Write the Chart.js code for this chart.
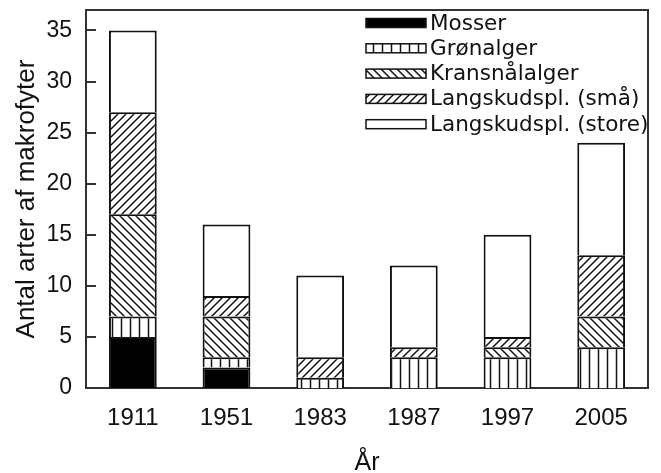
<!DOCTYPE html>
<html lang="da">
<head>
<meta charset="UTF-8">
<title>Antal arter af makrofyter</title>
<style>
    body { margin: 0; padding: 0; background: #fff; }
    #chart { display: block; }
</style>
</head>
<body>
<canvas id="chart" width="661" height="473"></canvas>
<script src="https://cdn.jsdelivr.net/npm/chart.js"></script>
<script>
    // data
    var years = ['1911', '1951', '1983', '1987', '1997', '2005'];
    var mosser = [5, 2, 0, 0, 0, 0];
    var gronalger = [2, 1, 1, 3, 3, 4];
    var kransnalalger = [10, 4, 0, 0, 1, 3];
    var langSmaa = [10, 2, 2, 1, 1, 6];
    var langStore = [8, 7, 8, 8, 10, 11];
    var seriesNames = ['Mosser', 'Grønalger', 'Kransnålalger', 'Langskudspl. (små)', 'Langskudspl. (store)'];

    var ink = '#111';
    var axisFont = 'Arial, "Liberation Sans", sans-serif';

    // hatch fills
    function makePattern(type) {
        var c = document.createElement('canvas');
        var s = type === 'vert' ? 9 : 8;
        c.width = s;
        c.height = s;
        var g = c.getContext('2d');
        g.fillStyle = '#fff';
        g.fillRect(0, 0, s, s);
        g.strokeStyle = ink;
        g.lineWidth = 1.5;
        g.beginPath();
        if (type === 'vert') {
            g.moveTo(s / 2, 0); g.lineTo(s / 2, s);
        } else if (type === 'fwd') {
            g.moveTo(0, s); g.lineTo(s, 0);
            g.moveTo(-1, 1); g.lineTo(1, -1);
            g.moveTo(s - 1, s + 1); g.lineTo(s + 1, s - 1);
        } else {
            g.moveTo(0, 0); g.lineTo(s, s);
            g.moveTo(-1, s - 1); g.lineTo(1, s + 1);
            g.moveTo(s - 1, -1); g.lineTo(s + 1, 1);
        }
        g.stroke();
        return g.createPattern(c, 'repeat');
    }

    var fills = ['#000', makePattern('vert'), makePattern('back'), makePattern('fwd'), '#fff'];
    var values = [mosser, gronalger, kransnalalger, langSmaa, langStore];

    var datasets = values.map(function (v, i) {
        return {
            label: seriesNames[i],
            data: v,
            backgroundColor: fills[i],
            borderColor: ink,
            borderWidth: 2,
            borderSkipped: 'bottom',
            barPercentage: 0.51,
            categoryPercentage: 1
        };
    });

    // top and right edges of the plot frame, plus inward y ticks
    var framePlugin = {
        id: 'frame',
        afterDraw: function (chart) {
            var a = chart.chartArea, ctx = chart.ctx, ys = chart.scales.y;
            ctx.save();
            ctx.strokeStyle = '#333';
            ctx.lineWidth = 2;
            ctx.beginPath();
            ctx.moveTo(a.left, a.top);
            ctx.lineTo(a.right, a.top);
            ctx.lineTo(a.right, a.bottom);
            ys.ticks.forEach(function (t) {
                var py = Math.round(ys.getPixelForValue(t.value));
                ctx.moveTo(a.left, py);
                ctx.lineTo(a.left + 10, py);
            });
            ctx.stroke();
            ctx.restore();
        }
    };

    // legend drawn inside the plot, top right
    var legendPlugin = {
        id: 'innerLegend',
        afterDraw: function (chart) {
            var ctx = chart.ctx;
            ctx.save();
            ctx.font = '21.5px "DejaVu Sans", sans-serif';
            ctx.textBaseline = 'middle';
            ctx.textAlign = 'left';
            chart.data.datasets.forEach(function (ds, i) {
                var y = 23 + i * 25.3;
                ctx.fillStyle = ds.backgroundColor;
                ctx.fillRect(366, y - 4.5, 60, 9);
                ctx.strokeStyle = ink;
                ctx.lineWidth = 1.5;
                ctx.strokeRect(366, y - 4.5, 60, 9);
                ctx.fillStyle = ink;
                ctx.fillText(ds.label, 430, y + 1);
            });
            ctx.restore();
        }
    };

    new Chart(document.getElementById('chart').getContext('2d'), {
        type: 'bar',
        data: { labels: years, datasets: datasets },
        options: {
            responsive: false,
            animation: false,
            layout: { padding: { top: 10, right: 13, left: 0, bottom: 0 } },
            plugins: {
                legend: { display: false },
                tooltip: { enabled: false }
            },
            scales: {
                x: {
                    stacked: true,
                    grid: { display: false },
                    border: { display: true, color: '#333', width: 2 },
                    ticks: { color: ink, padding: 8, font: { family: axisFont, size: 24 } },
                    title: {
                        display: true,
                        text: 'År',
                        color: ink,
                        padding: { top: 0, bottom: 0 },
                        font: { family: axisFont, size: 25, lineHeight: 0.8 }
                    },
                    afterFit: function (scale) {
                        scale.height = 85;
                        scale.paddingLeft = 0;
                        scale.paddingRight = 0;
                    }
                },
                y: {
                    stacked: true,
                    min: 0,
                    max: 37,
                    grid: { display: false },
                    border: { display: true, color: '#333', width: 2 },
                    ticks: {
                        stepSize: 5,
                        includeBounds: false,
                        padding: 6,
                        color: ink,
                        font: { family: axisFont, size: 23 }
                    },
                    title: {
                        display: true,
                        text: 'Antal arter af makrofyter',
                        color: ink,
                        padding: { top: 11, bottom: 0 },
                        font: { family: axisFont, size: 26 }
                    },
                    afterFit: function (scale) {
                        scale.width = 86;
                        scale.paddingTop = 0;
                        scale.paddingBottom = 0;
                    }
                }
            }
        },
        plugins: [framePlugin, legendPlugin]
    });
</script>
</body>
</html>
